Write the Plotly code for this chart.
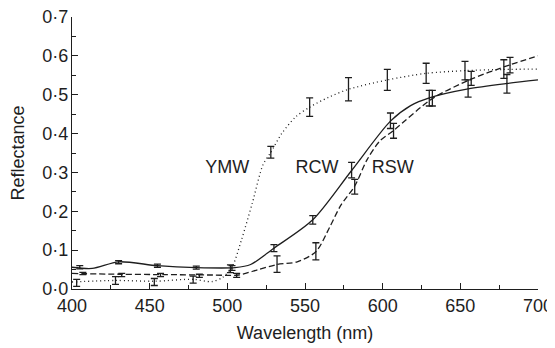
import plotly.graph_objects as go

# ---- curve samples ----
rcw_wl = [400, 413, 430, 455, 480, 505, 515, 530, 555, 580, 605, 618, 630, 655, 680, 700]
rcw_val = [0.056, 0.053, 0.070, 0.060, 0.055, 0.055, 0.063, 0.105, 0.178, 0.305, 0.432, 0.472, 0.492, 0.515, 0.529, 0.538]

rsw_wl = [400, 430, 460, 490, 507, 520, 532, 545, 557, 566, 573, 582, 590, 598, 607, 632, 657, 682, 700]
rsw_val = [0.040, 0.038, 0.037, 0.036, 0.036, 0.050, 0.063, 0.070, 0.096, 0.160, 0.215, 0.265, 0.333, 0.380, 0.408, 0.490, 0.540, 0.577, 0.600]

ymw_wl = [400, 428, 453, 478, 490, 497, 503, 509, 516, 523, 528, 535, 544, 553, 565, 578, 603, 628, 653, 678, 700]
ymw_val = [0.018, 0.022, 0.020, 0.025, 0.019, 0.030, 0.056, 0.125, 0.220, 0.320, 0.352, 0.400, 0.443, 0.468, 0.493, 0.514, 0.538, 0.555, 0.562, 0.565, 0.566]

# ---- error-bar points ----
rcw_bar_wl = [405, 430, 455, 480, 503, 530, 555, 580, 605, 630, 655, 680]
rcw_bar_val = [0.056, 0.069, 0.060, 0.055, 0.054, 0.105, 0.178, 0.306, 0.433, 0.491, 0.516, 0.528]
rcw_bar_err = [0.004, 0.004, 0.004, 0.004, 0.006, 0.009, 0.011, 0.020, 0.020, 0.020, 0.022, 0.024]

rsw_bar_wl = [407, 432, 457, 482, 506, 532, 557, 582, 607, 632, 657, 682]
rsw_bar_val = [0.040, 0.036, 0.036, 0.034, 0.035, 0.064, 0.097, 0.263, 0.407, 0.491, 0.542, 0.576]
rsw_bar_err = [0.003, 0.004, 0.004, 0.004, 0.005, 0.021, 0.022, 0.019, 0.019, 0.020, 0.018, 0.020]

ymw_bar_wl = [403, 428, 453, 478, 502, 528, 553, 578, 603, 628, 653, 678]
ymw_bar_val = [0.016, 0.022, 0.018, 0.024, 0.052, 0.352, 0.468, 0.514, 0.538, 0.555, 0.562, 0.566]
ymw_bar_err = [0.009, 0.010, 0.009, 0.009, 0.010, 0.015, 0.024, 0.030, 0.027, 0.026, 0.024, 0.024]

labels = ["YMW", "RCW", "RSW"]
label_wl = [500, 557.7, 606.5]
label_val = [0.309, 0.309, 0.309]

x_ticks = [400, 450, 500, 550, 600, 650, 700]
x_ticktext = ["400", "450", "500", "550", "600", "650", "700"]
y_ticks = [0.0, 0.1, 0.2, 0.3, 0.4, 0.5, 0.6, 0.7]
y_ticktext = ["0·0", "0·1", "0·2", "0·3", "0·4", "0·5", "0·6", "0·7"]

INK = "#1e1e1e"
FONT = "Liberation Sans, Arial, sans-serif"

fig = go.Figure()

for wl, val, dash in [(rcw_wl, rcw_val, "solid"),
                      (rsw_wl, rsw_val, "6px,3px"),
                      (ymw_wl, ymw_val, "1px,3px")]:
    fig.add_trace(go.Scatter(x=wl, y=val, mode="lines",
                             line=dict(color=INK, width=1.3, dash=dash,
                                       shape="spline", smoothing=0.8),
                             showlegend=False, hoverinfo="skip"))

for wl, val, err in [(rcw_bar_wl, rcw_bar_val, rcw_bar_err),
                     (rsw_bar_wl, rsw_bar_val, rsw_bar_err),
                     (ymw_bar_wl, ymw_bar_val, ymw_bar_err)]:
    fig.add_trace(go.Scatter(x=wl, y=val, mode="markers",
                             marker=dict(size=1, color=INK),
                             error_y=dict(type="data", array=err, visible=True,
                                          color=INK, thickness=1.3, width=3.5),
                             showlegend=False, hoverinfo="skip"))

fig.add_trace(go.Scatter(x=label_wl, y=label_val, mode="text", text=labels,
                         textposition="middle center",
                         textfont=dict(family=FONT, size=18, color=INK),
                         showlegend=False, hoverinfo="skip"))

# the page body adds an 8px offset, so the figure is 8px smaller than the window
fig.update_layout(
    width=547, height=340,
    margin=dict(l=64, r=17, t=9, b=59, autoexpand=False),
    paper_bgcolor="white", plot_bgcolor="white",
    font=dict(family=FONT, size=18, color=INK),
)
fig.update_xaxes(range=[400, 700], tickvals=x_ticks, ticktext=x_ticktext,
                 automargin=False, ticklabeloverflow="allow",
                 showline=True, linecolor=INK, linewidth=1.3, mirror=False,
                 showgrid=False, zeroline=False,
                 ticks="inside", ticklen=6, tickwidth=1.3, tickcolor=INK,
                 ticklabelstandoff=0,
                 minor=dict(ticks="inside", ticklen=4, tickwidth=1.2,
                            tickcolor=INK, dtick=25, tick0=400, showgrid=False),
                 tickfont=dict(family=FONT, size=18, color=INK),
                 title=dict(text="Wavelength (nm)", standoff=11,
                            font=dict(family=FONT, size=18, color=INK)))
fig.update_yaxes(range=[0, 0.7], tickvals=y_ticks, ticktext=y_ticktext,
                 automargin=False, ticklabeloverflow="allow",
                 showline=True, linecolor=INK, linewidth=1.3, mirror=False,
                 showgrid=False, zeroline=False,
                 ticks="inside", ticklen=6, tickwidth=1.3, tickcolor=INK,
                 ticklabelstandoff=-1,
                 minor=dict(ticks="inside", ticklen=4, tickwidth=1.2,
                            tickcolor=INK, dtick=0.05, tick0=0, showgrid=False),
                 tickfont=dict(family=FONT, size=18, color=INK),
                 title=dict(text="Reflectance", standoff=12,
                            font=dict(family=FONT, size=18, color=INK)))

fig.write_html("out.html")
